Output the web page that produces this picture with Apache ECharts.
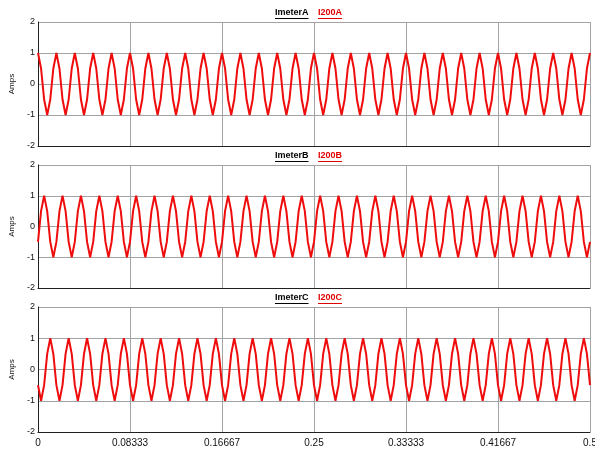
<!DOCTYPE html>
<html>
<head>
<meta charset="utf-8">
<script src="https://cdn.jsdelivr.net/npm/echarts@6/dist/echarts.min.js"></script>
<style>
  html, body { margin: 0; padding: 0; background: #ffffff; }
  #chart { width: 595px; height: 450px; }
</style>
</head>
<body>
<div id="chart"></div>
<script>
// Sample spacing of the recorded currents, in seconds
const sampleStep = 1 / 360;

// Panel headings: meter name and signal name
const meterNames = ['ImeterA', 'ImeterB', 'ImeterC'];
const signalNames = ['I200A', 'I200B', 'I200C'];

// Time axis tick labels (seconds)
const xTickLabels = ['0', '0.08333', '0.16667', '0.25', '0.33333', '0.41667', '0.5'];

// Phase currents in amps, one row per cycle
const currentA = [
  1, 0.5, -0.5, -1, -0.5, 0.5,
  1, 0.5, -0.5, -1, -0.5, 0.5,
  1, 0.5, -0.5, -1, -0.5, 0.5,
  1, 0.5, -0.5, -1, -0.5, 0.5,
  1, 0.5, -0.5, -1, -0.5, 0.5,
  1, 0.5, -0.5, -1, -0.5, 0.5,
  1, 0.5, -0.5, -1, -0.5, 0.5,
  1, 0.5, -0.5, -1, -0.5, 0.5,
  1, 0.5, -0.5, -1, -0.5, 0.5,
  1, 0.5, -0.5, -1, -0.5, 0.5,
  1, 0.5, -0.5, -1, -0.5, 0.5,
  1, 0.5, -0.5, -1, -0.5, 0.5,
  1, 0.5, -0.5, -1, -0.5, 0.5,
  1, 0.5, -0.5, -1, -0.5, 0.5,
  1, 0.5, -0.5, -1, -0.5, 0.5,
  1, 0.5, -0.5, -1, -0.5, 0.5,
  1, 0.5, -0.5, -1, -0.5, 0.5,
  1, 0.5, -0.5, -1, -0.5, 0.5,
  1, 0.5, -0.5, -1, -0.5, 0.5,
  1, 0.5, -0.5, -1, -0.5, 0.5,
  1, 0.5, -0.5, -1, -0.5, 0.5,
  1, 0.5, -0.5, -1, -0.5, 0.5,
  1, 0.5, -0.5, -1, -0.5, 0.5,
  1, 0.5, -0.5, -1, -0.5, 0.5,
  1, 0.5, -0.5, -1, -0.5, 0.5,
  1, 0.5, -0.5, -1, -0.5, 0.5,
  1, 0.5, -0.5, -1, -0.5, 0.5,
  1, 0.5, -0.5, -1, -0.5, 0.5,
  1, 0.5, -0.5, -1, -0.5, 0.5,
  1, 0.5, -0.5, -1, -0.5, 0.5,
  1
];

const currentB = [
  -0.5, 0.5, 1, 0.5, -0.5, -1,
  -0.5, 0.5, 1, 0.5, -0.5, -1,
  -0.5, 0.5, 1, 0.5, -0.5, -1,
  -0.5, 0.5, 1, 0.5, -0.5, -1,
  -0.5, 0.5, 1, 0.5, -0.5, -1,
  -0.5, 0.5, 1, 0.5, -0.5, -1,
  -0.5, 0.5, 1, 0.5, -0.5, -1,
  -0.5, 0.5, 1, 0.5, -0.5, -1,
  -0.5, 0.5, 1, 0.5, -0.5, -1,
  -0.5, 0.5, 1, 0.5, -0.5, -1,
  -0.5, 0.5, 1, 0.5, -0.5, -1,
  -0.5, 0.5, 1, 0.5, -0.5, -1,
  -0.5, 0.5, 1, 0.5, -0.5, -1,
  -0.5, 0.5, 1, 0.5, -0.5, -1,
  -0.5, 0.5, 1, 0.5, -0.5, -1,
  -0.5, 0.5, 1, 0.5, -0.5, -1,
  -0.5, 0.5, 1, 0.5, -0.5, -1,
  -0.5, 0.5, 1, 0.5, -0.5, -1,
  -0.5, 0.5, 1, 0.5, -0.5, -1,
  -0.5, 0.5, 1, 0.5, -0.5, -1,
  -0.5, 0.5, 1, 0.5, -0.5, -1,
  -0.5, 0.5, 1, 0.5, -0.5, -1,
  -0.5, 0.5, 1, 0.5, -0.5, -1,
  -0.5, 0.5, 1, 0.5, -0.5, -1,
  -0.5, 0.5, 1, 0.5, -0.5, -1,
  -0.5, 0.5, 1, 0.5, -0.5, -1,
  -0.5, 0.5, 1, 0.5, -0.5, -1,
  -0.5, 0.5, 1, 0.5, -0.5, -1,
  -0.5, 0.5, 1, 0.5, -0.5, -1,
  -0.5, 0.5, 1, 0.5, -0.5, -1,
  -0.5
];

const currentC = [
  -0.5, -1, -0.5, 0.5, 1, 0.5,
  -0.5, -1, -0.5, 0.5, 1, 0.5,
  -0.5, -1, -0.5, 0.5, 1, 0.5,
  -0.5, -1, -0.5, 0.5, 1, 0.5,
  -0.5, -1, -0.5, 0.5, 1, 0.5,
  -0.5, -1, -0.5, 0.5, 1, 0.5,
  -0.5, -1, -0.5, 0.5, 1, 0.5,
  -0.5, -1, -0.5, 0.5, 1, 0.5,
  -0.5, -1, -0.5, 0.5, 1, 0.5,
  -0.5, -1, -0.5, 0.5, 1, 0.5,
  -0.5, -1, -0.5, 0.5, 1, 0.5,
  -0.5, -1, -0.5, 0.5, 1, 0.5,
  -0.5, -1, -0.5, 0.5, 1, 0.5,
  -0.5, -1, -0.5, 0.5, 1, 0.5,
  -0.5, -1, -0.5, 0.5, 1, 0.5,
  -0.5, -1, -0.5, 0.5, 1, 0.5,
  -0.5, -1, -0.5, 0.5, 1, 0.5,
  -0.5, -1, -0.5, 0.5, 1, 0.5,
  -0.5, -1, -0.5, 0.5, 1, 0.5,
  -0.5, -1, -0.5, 0.5, 1, 0.5,
  -0.5, -1, -0.5, 0.5, 1, 0.5,
  -0.5, -1, -0.5, 0.5, 1, 0.5,
  -0.5, -1, -0.5, 0.5, 1, 0.5,
  -0.5, -1, -0.5, 0.5, 1, 0.5,
  -0.5, -1, -0.5, 0.5, 1, 0.5,
  -0.5, -1, -0.5, 0.5, 1, 0.5,
  -0.5, -1, -0.5, 0.5, 1, 0.5,
  -0.5, -1, -0.5, 0.5, 1, 0.5,
  -0.5, -1, -0.5, 0.5, 1, 0.5,
  -0.5, -1, -0.5, 0.5, 1, 0.5,
  -0.5
];

const phaseCurrents = [currentA, currentB, currentC];

// ---- layout ----
const FONT = '"Liberation Sans", Arial, sans-serif';
const panels = [
  { top: 22, height: 124 },
  { top: 165, height: 123 },
  { top: 307, height: 125 }
];
const plotLeft = 38;
const plotRight = 5;
const gridColor = '#a3a3a3';
const traceColor = '#ee0c0c';

const toPoints = values => values.map((v, i) => [i * sampleStep, v]);

// width of heading text, used to size the underlines
const measureCtx = document.createElement('canvas').getContext('2d');
const headingFont = 'bold 9px ' + FONT;
function textWidth(s) {
  measureCtx.font = headingFont;
  return measureCtx.measureText(s).width;
}

const grids = [], xAxes = [], yAxes = [], series = [], graphics = [];

panels.forEach((p, i) => {
  grids.push({
    left: plotLeft, right: plotRight, top: p.top, height: p.height,
    containLabel: false, outerBoundsMode: 'none'
  });

  xAxes.push({
    type: 'value',
    gridIndex: i,
    min: 0,
    max: 0.5,
    interval: 1 / 12,
    axisLine: { show: true, onZero: false, lineStyle: { color: '#202020', width: 1 } },
    axisTick: { show: false },
    axisLabel: {
      show: i === panels.length - 1,
      color: '#111',
      fontFamily: FONT,
      fontSize: 10,
      margin: 6,
      formatter: (val, idx) => xTickLabels[idx] !== undefined ? xTickLabels[idx] : ''
    },
    splitLine: { show: true, lineStyle: { color: gridColor, width: 1 } }
  });

  yAxes.push({
    type: 'value',
    gridIndex: i,
    min: -2,
    max: 2,
    interval: 1,
    name: 'Amps',
    nameLocation: 'middle',
    nameRotate: 90,
    nameGap: 20,
    nameTextStyle: { color: '#111', fontFamily: FONT, fontSize: 8 },
    axisLine: { show: true, lineStyle: { color: '#202020', width: 1 } },
    axisTick: { show: false },
    axisLabel: { color: '#111', fontFamily: FONT, fontSize: 9, margin: 3 },
    splitLine: { show: true, lineStyle: { color: gridColor, width: 1 } }
  });

  series.push({
    type: 'line',
    name: signalNames[i],
    xAxisIndex: i,
    yAxisIndex: i,
    data: toPoints(phaseCurrents[i]),
    showSymbol: false,
    symbol: 'none',
    lineStyle: { color: traceColor, width: 2 },
    silent: true,
    animation: false
  });

  // panel heading: meter name (black) and signal name (red), both underlined
  const y = p.top - 8;
  const meterX = 275;
  const signalX = 318;
  const wMeter = textWidth(meterNames[i]);
  const wSignal = textWidth(signalNames[i]);
  graphics.push(
    { type: 'text', left: meterX, top: y - 6, style: { text: meterNames[i], fill: '#000', font: headingFont } },
    { type: 'rect', shape: { x: meterX, y: y + 4, width: wMeter, height: 1 }, style: { fill: '#000' } },
    { type: 'text', left: signalX, top: y - 6, style: { text: signalNames[i], fill: '#e00000', font: headingFont } },
    { type: 'rect', shape: { x: signalX, y: y + 4, width: wSignal, height: 1 }, style: { fill: '#e00000' } }
  );
});

const chart = echarts.init(document.getElementById('chart'), null, { renderer: 'canvas' });
chart.setOption({
  animation: false,
  backgroundColor: '#ffffff',
  grid: grids,
  xAxis: xAxes,
  yAxis: yAxes,
  series: series,
  graphic: graphics
});
</script>
</body>
</html>
